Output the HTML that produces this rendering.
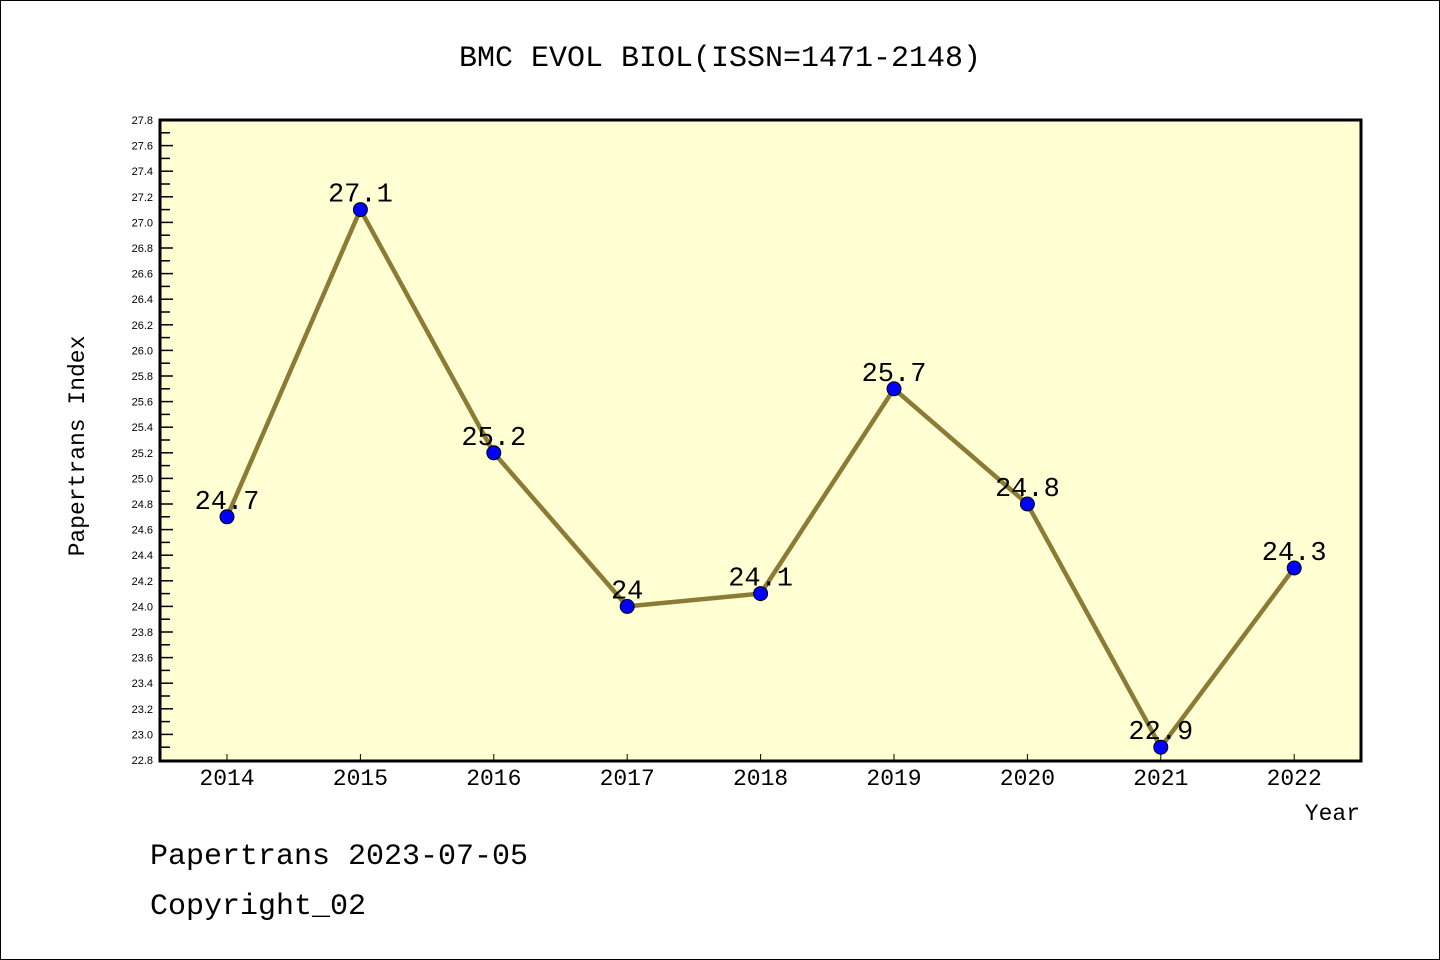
<!DOCTYPE html>
<html><head><meta charset="utf-8"><style>
html,body{margin:0;padding:0;background:#fff}
svg{display:block}
text{font-family:"Liberation Mono","WenQuanYi Zen Hei",monospace;fill:#000}
</style></head><body>
<svg id="chart" width="1440" height="960" xmlns="http://www.w3.org/2000/svg">
<rect x="0.5" y="0.5" width="1439" height="959" fill="#fff" stroke="#000"/>
<text x="720" y="66" font-size="30" text-anchor="middle">BMC EVOL BIOL(ISSN=1471-2148)</text>
<rect x="160" y="120" width="1201" height="641" fill="#ffffd3" stroke="#000" stroke-width="3"/>
<g id="yaxis"></g>
<g id="xaxis"></g>
<g id="series"></g>
<text transform="translate(84,446) rotate(-90)" font-size="23" text-anchor="middle">Papertrans Index</text>
<text x="1360" y="820" font-size="23" text-anchor="end">Year</text>
<text x="150" y="864" font-size="30">Papertrans 2023-07-05</text>
<text x="150" y="914" font-size="30">Copyright_02</text>
</svg>
<script>
const years=[2014,2015,2016,2017,2018,2019,2020,2021,2022];
const values=[24.7,27.1,25.2,24,24.1,25.7,24.8,22.9,24.3];
const valueLabels=["24.7","27.1","25.2","24","24.1","25.7","24.8","22.9","24.3"];
const yMin=22.8,yMax=27.8;
const NS="http://www.w3.org/2000/svg";
function y(v){return 760-(v-yMin)/(yMax-yMin)*640;}
function x(i){return 227+i*133.4;}
function el(t,a,p){const e=document.createElementNS(NS,t);for(const k in a)e.setAttribute(k,a[k]);p.appendChild(e);return e;}
const ya=document.getElementById('yaxis'),xa=document.getElementById('xaxis'),sr=document.getElementById('series');
for(let k=0;k<=50;k++){const v=yMin+k*0.1;const yy=y(v);const major=k%2===0;
 if(k>0&&k<50){const t=el('line',{x1:161,x2:161+(major?12:9),y1:yy,y2:yy,stroke:'#000','stroke-width':1.5},ya);
 
 }
 if(major){const l=el('text',{x:153,y:yy+4,'font-size':11,'text-anchor':'end',style:'font-family:"Liberation Sans",sans-serif'},ya);l.textContent=v.toFixed(1);
 
 }}
years.forEach((yr,i)=>{const t=el('line',{x1:x(i),x2:x(i),y1:760,y2:754,stroke:'#000','stroke-width':1},xa);
 
 
 const l=el('text',{x:x(i),y:785,'font-size':23,'text-anchor':'middle'},xa);l.textContent=yr;
 
 });
const pl=el('polyline',{points:values.map((v,i)=>x(i)+','+y(v)).join(' '),fill:'none',stroke:'#8b7b35','stroke-width':4.5},sr);


values.forEach((v,i)=>{const c=el('circle',{cx:x(i),cy:y(v),r:7,fill:'#0000ff',stroke:'#000','stroke-width':1},sr);
 
 
 const l=el('text',{x:x(i),y:y(v)-8,'font-size':27,'text-anchor':'middle'},sr);l.textContent=valueLabels[i];
 
 });
</script>
</body></html>
